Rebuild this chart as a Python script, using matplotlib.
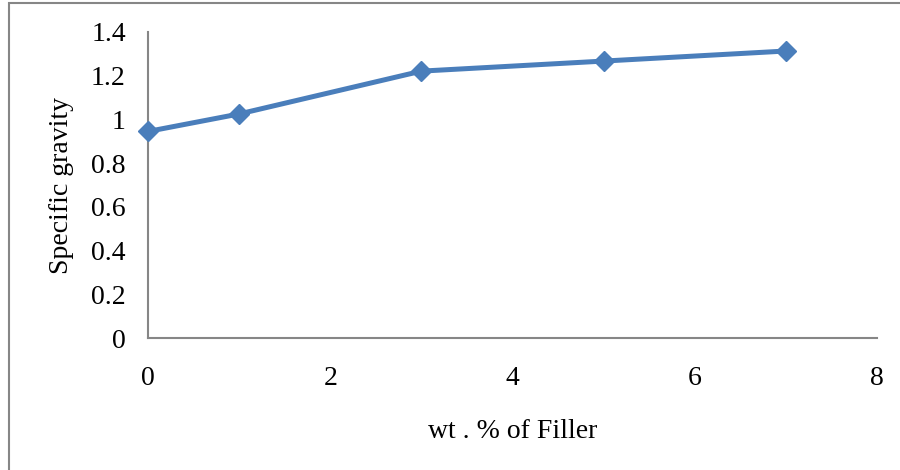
import matplotlib.pyplot as plt
from matplotlib.patches import Rectangle

# Specific gravity vs filler content
filler_wt = [0, 1, 3, 5, 7]
specific_gravity = [0.945, 1.025, 1.221, 1.267, 1.313]

x_ticks = [0, 2, 4, 6, 8]
y_ticks = [0, 0.2, 0.4, 0.6, 0.8, 1, 1.2, 1.4]
y_labels = ['0', '0.2', '0.4', '0.6', '0.8', '1', '1.2', '1.4']

plt.rcParams['font.family'] = ['Liberation Serif', 'DejaVu Serif']

fig = plt.figure(figsize=(9, 4.7), dpi=100)
ax = fig.add_axes([148/900, (470-338)/470, (877-148)/900, (338-32)/470])

ax.plot(filler_wt, specific_gravity, color='#4A7EBB', linewidth=3.6,
        marker='D', markersize=10.5, markerfacecolor='#4A7EBB',
        markeredgecolor='#4A7EBB', clip_on=False, zorder=3)

ax.set_xlim(0, 8)
ax.set_ylim(0, 1.4)
ax.set_xticks(x_ticks)
ax.set_yticks(y_ticks)
ax.set_yticklabels(y_labels)
ax.tick_params(axis='both', length=0, labelsize=20)
ax.tick_params(axis='x', pad=20)
ax.tick_params(axis='y', pad=16)

for side in ['top', 'right']:
    ax.spines[side].set_visible(False)
for side in ['left', 'bottom']:
    ax.spines[side].set_color('#868686')
    ax.spines[side].set_linewidth(1.5)

ax.set_xlabel('wt . % of Filler', fontsize=20, labelpad=20)
ax.set_ylabel('Specific gravity', fontsize=20, labelpad=12)

# outer chart border
fig.patches.append(Rectangle((9/900, -0.02), 1.0, (470-3)/470 + 0.02,
                             transform=fig.transFigure, fill=False,
                             edgecolor='#868686', linewidth=1.5))

fig.savefig('out.png', dpi=100)
